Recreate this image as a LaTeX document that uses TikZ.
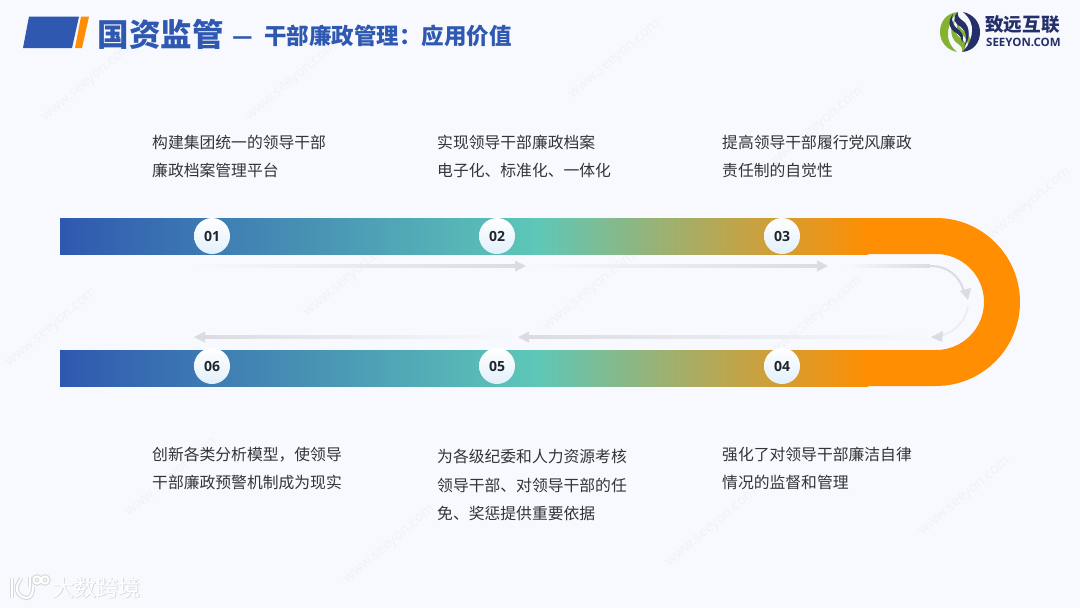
\documentclass[tikz,border=0pt]{standalone}
\usepackage{fontspec}
\setmainfont{Noto Sans CJK SC}
\newfontfamily\numfont{Open Sans}
\newfontfamily\halofont[FakeBold=1.6]{Noto Sans CJK SC}
\usetikzlibrary{arrows.meta,positioning,calc}
\usepackage{xcolor}
\definecolor{PageBg}{RGB}{247,249,254}
\definecolor{Royal}{RGB}{47,88,176}
\definecolor{Amber}{RGB}{255,142,2}
\definecolor{Teal}{RGB}{94,199,184}
\definecolor{BodyInk}{RGB}{51,51,56}
\definecolor{NumInk}{RGB}{33,37,46}
\definecolor{FlowGray}{RGB}{218,220,225}
\definecolor{WaterInk}{RGB}{240,242,247}
\definecolor{LogoNavy}{RGB}{37,47,105}
\definecolor{LogoGreen}{RGB}{134,178,52}
\definecolor{HaloGray}{RGB}{214,216,220}
\definecolor{RimBlue}{RGB}{226,240,250}
% band colours run over the straight part only, 25bp to 75bp is what shows
\pgfdeclarehorizontalshading{bandshade}{100bp}{
  color(0bp)=(Royal); color(25bp)=(Royal); color(54.5bp)=(Teal);
  color(75bp)=(Amber); color(100bp)=(Amber)}
\tikzset{
  bandbar/.style={shading=bandshade,draw=none},
  stepdot/.style={circle,minimum size=36pt,inner sep=0pt,
                  top color=white,bottom color=RimBlue,
                  font=\fontsize{14}{14}\selectfont\numfont\bfseries,text=NumInk},
  bodytext/.style={anchor=west,align=left,text=BodyInk,inner sep=0pt,
                  font=\fontsize{15.8}{28.2}\selectfont},
  flowline/.style={draw=none,left color=PageBg,right color=FlowGray},
  flowback/.style={draw=none,left color=FlowGray,right color=PageBg},
  flowtip/.style={fill=FlowGray,draw=none},
  watermark/.style={rotate=40,text=WaterInk,font=\fontsize{14}{14}\selectfont\numfont},
  titletext/.style={anchor=west,inner sep=0pt,text=Royal,font=\bfseries},
}
\begin{document}
\begin{tikzpicture}[x=1pt,y=-1pt]
  \useasboundingbox (0,0) rectangle (1080,608);
  \fill[PageBg] (0,0) rectangle (1080,608);
  \foreach \wx/\wy/\wn in {88/83/a,292/82/b,615/60/c,818/127/d,1026/208/e,350/278/f,
      52/328/g,590/292/h,817/317/i,172/478/j,390/545/k,712/528/l,965/497/m}{
    \node[watermark] (water\wn) at (\wx,\wy) {www.seeyon.com};
  }
  % header
  \fill[Royal] (29,16.5) -- (79,16.5) -- (72,48) -- (23,48) -- cycle;
  \fill[Amber] (81,16.5) -- (89,16.5) -- (82,48) -- (75,48) -- cycle;
  \node[titletext,font=\fontsize{31.5}{32}\selectfont\bfseries] (titlemain) at (97.5,34) {国资监管};
  \node[titletext,font=\fontsize{22.5}{25}\selectfont\bfseries] (titlesub) at (232.5,36) {—\hspace{11pt}干部廉政管理：应用价值};
  % logo, the navy half is the green one turned round
  \foreach \lc/\la in {LogoGreen/0,LogoNavy/180}{
    \begin{scope}[rotate around={\la:(960,32)}]
      \fill[\lc] (958,12) .. controls (946,13) and (940,22) .. (940,32)
         .. controls (940,42) and (947,50) .. (957,52)
         .. controls (950,46) and (947,39) .. (948,32)
         .. controls (949,23) and (953,16) .. (958,12) -- cycle;
      \fill[\lc] (956,17) .. controls (950,25) and (949,37) .. (957,43)
         .. controls (961,46) and (963,48) .. (962,52)
         .. controls (969,46) and (965,40) .. (959,37)
         .. controls (953,33) and (953,24) .. (956,17) -- cycle;
      \fill[\lc] (958,21) .. controls (956,27) and (957,31) .. (961,34)
         .. controls (965,37) and (970,41) .. (967,50)
         .. controls (973,42) and (971,35) .. (964,31)
         .. controls (960,29) and (958,25) .. (958,21) -- cycle;
    \end{scope}
  }
  \node[anchor=west,inner sep=0pt,text=LogoNavy,font=\fontsize{18.6}{19}\selectfont\bfseries] (logocn) at (985,25) {致远互联};
  \node[anchor=west,inner sep=0pt,text=LogoNavy,font=\fontsize{11.5}{12}\selectfont\numfont\bfseries] (logoen) at (986,42) {SEEYON.COM};
  % band
  \fill[Amber] (860,218) -- (936,218) arc[start angle=-90,end angle=90,radius=84] -- (860,386)
     -- (860,350) -- (936,350) arc[start angle=90,end angle=-90,radius=48] -- (860,254) -- cycle;
  \shade[bandbar] (60,218) rectangle (868,254);
  \shade[bandbar] (60,350) rectangle (868,386);
  % step numbers
  \node[stepdot] (one) at (212,236) {01};
  \node[stepdot] (two) at (497,236) {02};
  \node[stepdot] (three) at (782,236) {03};
  \node[stepdot] (four) at (782,366) {04};
  \node[stepdot] (five) at (497,366) {05};
  \node[stepdot] (six) at (212,366) {06};
  % flow arrows
  \coordinate (fa) at (190,266);
  \coordinate (fb) at (526,266);
  \coordinate (fc) at (530,266);
  \coordinate (fd) at (828,266);
  \coordinate (fe) at (845,266);
  \coordinate (ff) at (968,300);
  \coordinate (fg) at (968,306);
  \coordinate (fh) at (931,337);
  \coordinate (fi) at (518,337);
  \coordinate (fj) at (194,337);
  \shade[flowline] ($(fa)+(0,-1.2)$) rectangle ($(fb)+(-8,1.2)$);
  \fill[flowtip] (fb) -- ++(-11,-5.5) -- ++(0,11) -- cycle;
  \shade[flowline] ($(fc)+(0,-1.2)$) rectangle ($(fd)+(-8,1.2)$);
  \fill[flowtip] (fd) -- ++(-11,-5.5) -- ++(0,11) -- cycle;
  \shade[flowline] ($(fe)+(0,-1.2)$) rectangle (930,267.2);
  \draw[FlowGray,line width=2pt] (930,266) .. controls (948,266) and (960,276) .. (964,292);
  \fill[flowtip] (ff) -- ++(-8,-9) -- ++(11,-3) -- cycle;
  \draw[FlowGray!45!PageBg,line width=1.6pt] (fg) .. controls (966,320) and (955,332) .. (941,336);
  \fill[flowtip] (fh) -- (943,331) -- (942,342) -- cycle;
  \shade[flowback] ($(fi)+(8,-1.2)$) rectangle ($(fh)+(0,1.2)$);
  \fill[flowtip] (fi) -- ++(11,-5.5) -- ++(0,11) -- cycle;
  \shade[flowback] ($(fj)+(8,-1.2)$) rectangle ($(fi)+(-4,1.2)$);
  \fill[flowtip] (fj) -- ++(11,-5.5) -- ++(0,11) -- cycle;
  % texts
  \node[bodytext] (textone) at (152,156.5) {构建集团统一的领导干部\\廉政档案管理平台};
  \node[bodytext] (texttwo) at (437,156.5) {实现领导干部廉政档案\\电子化、标准化、一体化};
  \node[bodytext] (textthree) at (722,156.5) {提高领导干部履行党风廉政\\责任制的自觉性};
  \node[bodytext] (textfour) at (722,468.5) {强化了对领导干部廉洁自律\\情况的监督和管理};
  \node[bodytext] (textfive) at (437,485) {为各级纪委和人力资源考核\\领导干部、对领导干部的任\\免、奖惩提供重要依据};
  \node[bodytext] (textsix) at (152,468.5) {创新各类分析模型，使领导\\干部廉政预警机制成为现实};
  % corner mark
  \foreach \pw/\pc in {4.2/HaloGray,2/white}{
    \draw[\pc,line width=\pw pt] (12,578) -- (12,598);
    \draw[\pc,line width=\pw pt] (21,578) -- (17,586) .. controls (15,592) and (21,598) .. (27,598)
       .. controls (31,598) and (33,593) .. (33,587);
    \draw[\pc,line width=\pw pt] (30,577) -- (30,587);
    \draw[\pc,line width=\pw pt] (37,580) circle[radius=3.6pt];
    \draw[\pc,line width=\pw pt] (45,580) circle[radius=3.6pt];
  }
  \node[anchor=west,inner sep=0pt,text=HaloGray,font=\fontsize{22}{22}\selectfont\halofont] (markhalo) at (52.5,588) {大数跨境};
  \node[anchor=west,inner sep=0pt,text=white,font=\fontsize{22}{22}\selectfont] (marktext) at (52.5,588) {大数跨境};
\end{tikzpicture}
\end{document}
